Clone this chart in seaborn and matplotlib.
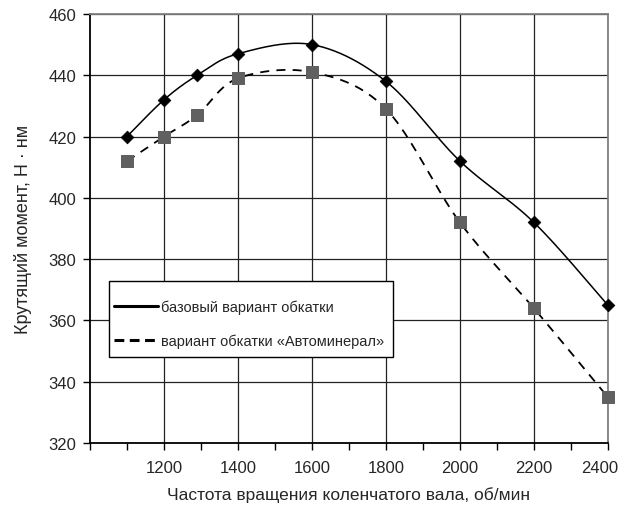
import numpy as np
import pandas as pd
import seaborn as sns
import matplotlib.pyplot as plt
from matplotlib.lines import Line2D
from matplotlib.patches import Rectangle
from matplotlib.transforms import ScaledTranslation

# Data
rpm = [1100, 1200, 1290, 1400, 1600, 1800, 2000, 2200, 2400]
torque_base = [420, 432, 440, 447, 450, 438, 412, 392, 365]
torque_avto = [412, 420, 427, 439, 441, 429, 392, 364, 335]
series_names = ['базовый вариант обкатки', 'вариант обкатки «Автоминерал»']
x_ticks = [1200, 1400, 1600, 1800, 2000, 2200, 2400]
y_ticks = [320, 340, 360, 380, 400, 420, 440, 460]


def smooth(x, y, n=40):
    # Excel-like smoothed line: cubic Bezier segments through the points
    x = np.asarray(x, float)
    y = np.asarray(y, float)
    px = np.r_[x[0], x, x[-1]]
    py = np.r_[y[0], y, y[-1]]
    t = np.linspace(0, 1, n)
    xs, ys = [], []
    for i in range(1, len(px) - 2):
        c1x = px[i] + (px[i + 1] - px[i - 1]) / 6
        c1y = py[i] + (py[i + 1] - py[i - 1]) / 6
        c2x = px[i + 1] - (px[i + 2] - px[i]) / 6
        c2y = py[i + 1] - (py[i + 2] - py[i]) / 6
        bx = (1-t)**3*px[i] + 3*(1-t)**2*t*c1x + 3*(1-t)*t**2*c2x + t**3*px[i+1]
        by = (1-t)**3*py[i] + 3*(1-t)**2*t*c1y + 3*(1-t)*t**2*c2y + t**3*py[i+1]
        xs.extend(bx)
        ys.extend(by)
    return pd.DataFrame({'x': xs, 'y': ys})


sns.set_style('ticks')
plt.rcParams['font.family'] = ['Liberation Sans', 'DejaVu Sans']

fig = plt.figure(figsize=(6.21, 5.06), dpi=100)
ax = fig.add_axes([0.145, 0.1225, 0.8337, 0.848])

# lines
base_curve = smooth(rpm, torque_base)
avto_curve = smooth(rpm, torque_avto)
sns.lineplot(data=base_curve, x='x', y='y', sort=False, ax=ax, color='black', lw=1.1, zorder=3)
sns.lineplot(data=avto_curve, x='x', y='y', sort=False, ax=ax, color='black', lw=1.3,
             linestyle=(0, (5, 4)), zorder=3)

# markers
pts = pd.DataFrame({'rpm': rpm, 'base': torque_base, 'avto': torque_avto})
sns.scatterplot(data=pts, x='rpm', y='base', ax=ax, marker='D', s=42, color='black',
                edgecolor='black', zorder=5, clip_on=False)
sns.scatterplot(data=pts, x='rpm', y='avto', ax=ax, marker='s', s=80, color='#606060',
                edgecolor='#606060', zorder=5, clip_on=False)

ax.set_xlim(1000, 2400)
ax.set_ylim(320, 460)
ax.set_xticks(x_ticks)
ax.set_xticks([1000, 1100, 1300, 1500, 1700, 1900, 2100, 2300], minor=True)
ax.set_yticks(y_ticks)
ax.tick_params(axis='both', which='major', labelsize=12, length=5, width=1, color='black')
ax.tick_params(axis='x', which='major', pad=7)
ax.tick_params(axis='y', which='major', pad=5)
ax.tick_params(axis='x', which='minor', length=5, width=1, color='black')
ax.grid(True, which='major', color='#222222', lw=0.9)

# keep the last x label inside the picture
last = ax.get_xticklabels()[-1]
last.set_transform(last.get_transform() + ScaledTranslation(-6 / 72, 0, fig.dpi_scale_trans))

for side in ['left', 'bottom']:
    ax.spines[side].set_color('black')
    ax.spines[side].set_linewidth(1.3)
for side in ['top', 'right']:
    ax.spines[side].set_visible(True)
    ax.spines[side].set_color('#808080')
    ax.spines[side].set_linewidth(1.3)

ax.set_xlabel('Частота вращения коленчатого вала, об/мин', fontsize=12.5, labelpad=8)
ax.set_ylabel('Крутящий момент, Н · нм', fontsize=13, labelpad=12)

# legend box (taller than matplotlib's own frame would be)
ax.add_patch(Rectangle((0.0367, 0.2005), 0.5486, 0.177, transform=ax.transAxes,
                       facecolor='white', edgecolor='black', lw=1.0, zorder=6))
handles = [Line2D([], [], color='black', lw=2.2),
           Line2D([], [], color='black', lw=2.2, linestyle=(0, (3.2, 1.8)))]
leg = ax.legend(handles, series_names, loc='center left', bbox_to_anchor=(0.046, 0.277),
                fontsize=10.5, frameon=False, handlelength=3.0, handletextpad=0.25,
                labelspacing=1.35, borderpad=0, borderaxespad=0)
leg.set_zorder(7)

fig.savefig('out.png', dpi=100)
